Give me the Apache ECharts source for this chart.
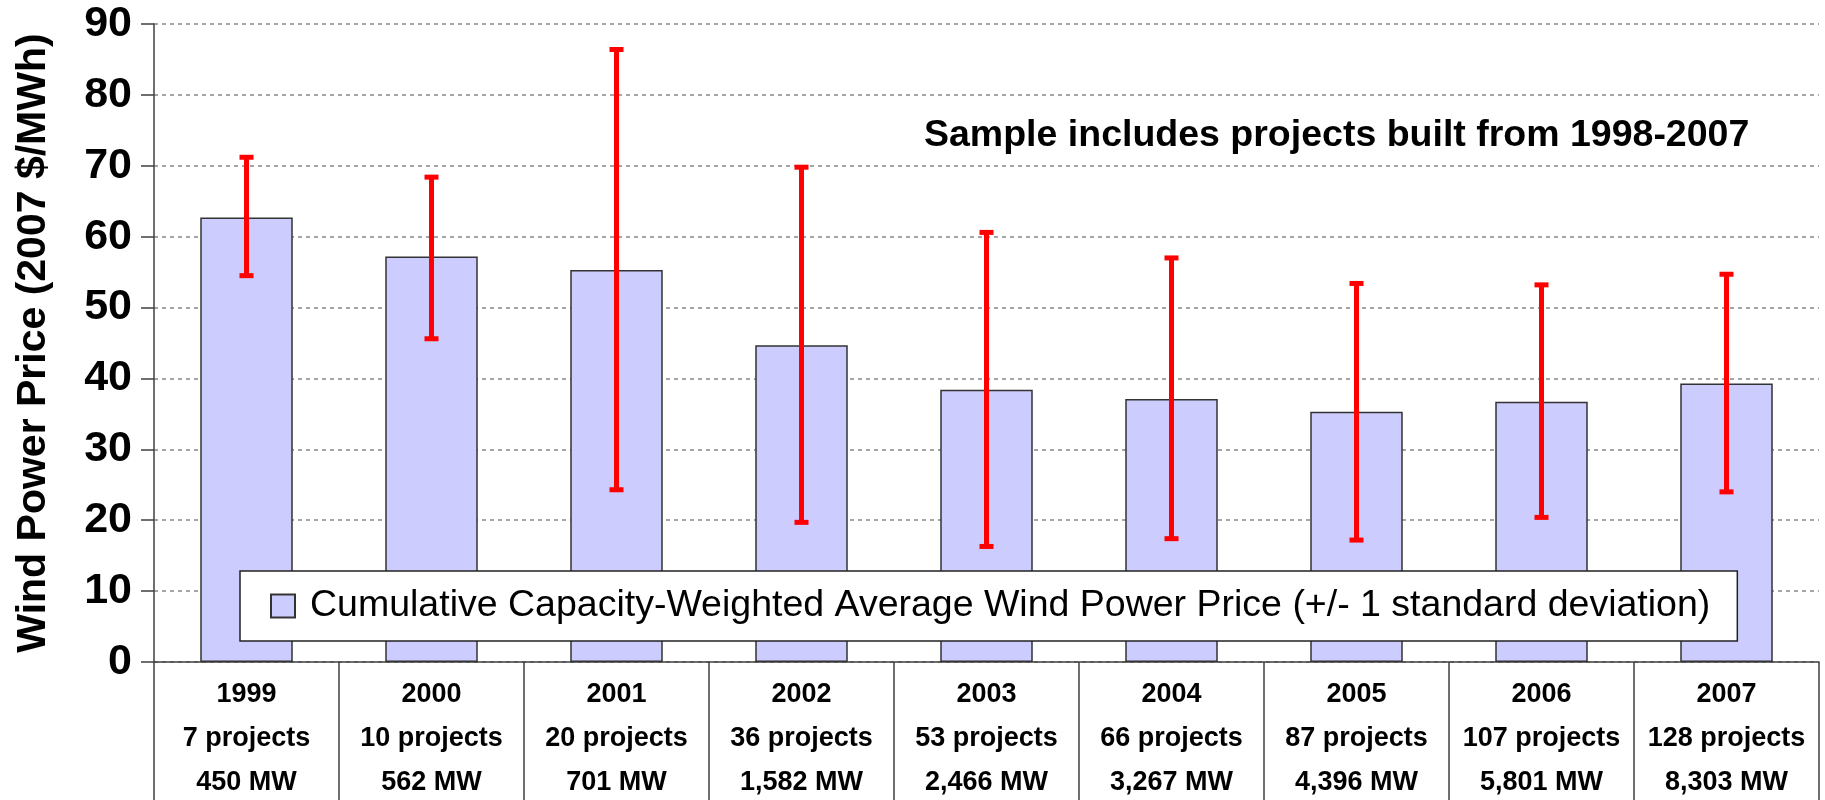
<!DOCTYPE html>
<html>
<head>
<meta charset="utf-8">
<script src="https://cdn.jsdelivr.net/npm/echarts@6/dist/echarts.min.js"></script>
<style>
  html, body { margin: 0; padding: 0; background: #fff; }
  #chart { width: 1825px; height: 800px; }
</style>
</head>
<body>
<div id="chart"></div>
<script>
const years = ['1999', '2000', '2001', '2002', '2003', '2004', '2005', '2006', '2007'];
const projects = ['7 projects', '10 projects', '20 projects', '36 projects', '53 projects',
  '66 projects', '87 projects', '107 projects', '128 projects'];
const capacity = ['450 MW', '562 MW', '701 MW', '1,582 MW', '2,466 MW',
  '3,267 MW', '4,396 MW', '5,801 MW', '8,303 MW'];
const avgPrice = [62.7, 57.2, 55.3, 44.7, 38.4, 37.1, 35.3, 36.7, 39.3];
const errLow = [54.5, 45.6, 24.3, 19.7, 16.3, 17.4, 17.2, 20.4, 24.0];
const errHigh = [71.2, 68.4, 86.4, 69.8, 60.6, 57.0, 53.4, 53.2, 54.7];
const yTicks = [0, 10, 20, 30, 40, 50, 60, 70, 80, 90];

const seriesName = 'Cumulative Capacity-Weighted Average Wind Power Price (+/- 1 standard deviation)';
const noteText = 'Sample includes projects built from 1998-2007';

const errData = years.map((y, i) => [i, errLow[i], errHigh[i]]);

const chartDom = document.getElementById('chart');
const myChart = echarts.init(chartDom);

const options = {
  animation: false,
  textStyle: { fontFamily: 'Liberation Sans, Arial, sans-serif' },
  grid: { left: 154, right: 6, top: 24, bottom: 138 },
  legend: {
    left: 240,
    top: 571,
    padding: [16, 27, 16, 30],
    backgroundColor: '#fff',
    borderColor: '#222',
    borderWidth: 1.5,
    borderRadius: 0,
    icon: 'rect',
    itemWidth: 24,
    itemHeight: 23,
    itemGap: 18,
    data: [seriesName],
    textStyle: { fontSize: 37.5, color: '#000', padding: [0, 0, 0, 10] },
  },
  xAxis: {
    type: 'category',
    data: years,
    axisLine: { show: true, lineStyle: { color: '#404040', width: 1.5 } },
    axisTick: {
      show: true,
      interval: 0,
      length: 140,
      lineStyle: { color: '#404040', width: 1.5 },
    },
    axisLabel: {
      interval: 0,
      margin: 11,
      formatter: (v, i) => `{y|${v}}\n{p|${projects[i]}}\n{m|${capacity[i]}}`,
      rich: {
        y: { fontSize: 27, fontWeight: 'bold', color: '#000', lineHeight: 44 },
        p: { fontSize: 27, fontWeight: 'bold', color: '#000', lineHeight: 44 },
        m: { fontSize: 27, fontWeight: 'bold', color: '#000', lineHeight: 44 },
      },
    },
  },
  yAxis: {
    type: 'value',
    min: yTicks[0],
    max: yTicks[yTicks.length - 1],
    interval: 10,
    name: 'Wind Power Price (2007 $/MWh)',
    nameLocation: 'middle',
    nameGap: 100,
    nameTextStyle: { fontSize: 41, fontWeight: 'bold', color: '#000' },
    axisLine: { show: true, lineStyle: { color: '#404040', width: 1.5 } },
    axisTick: { show: true, length: 13, lineStyle: { color: '#404040', width: 1.5 } },
    axisLabel: { fontSize: 43, fontWeight: 'bold', color: '#000', margin: 22 },
    splitLine: {
      show: true,
      lineStyle: { color: '#888', width: 1.5, type: [4, 4] },
    },
  },
  graphic: [
    {
      type: 'text',
      left: 924,
      top: 117,
      style: {
        text: noteText,
        fontSize: 37.5,
        fontWeight: 'bold',
        fill: '#000',
        fontFamily: 'Liberation Sans, Arial, sans-serif',
      },
    },
  ],
  series: [
    {
      name: seriesName,
      type: 'bar',
      data: avgPrice,
      barWidth: '50%',
      itemStyle: { color: '#ccccff', borderColor: '#333', borderWidth: 1.5 },
      z: 2,
    },
    {
      name: 'err',
      type: 'custom',
      data: errData,
      z: 3,
      renderItem: function (params, api) {
        const x = api.value(0);
        const lo = api.coord([x, api.value(1)]);
        const hi = api.coord([x, api.value(2)]);
        const cap = 7;
        const style = { stroke: '#ff0000', lineWidth: 5 };
        return {
          type: 'group',
          children: [
            { type: 'line', shape: { x1: hi[0], y1: hi[1], x2: lo[0], y2: lo[1] }, style: style },
            { type: 'line', shape: { x1: hi[0] - cap, y1: hi[1], x2: hi[0] + cap, y2: hi[1] }, style: style },
            { type: 'line', shape: { x1: lo[0] - cap, y1: lo[1], x2: lo[0] + cap, y2: lo[1] }, style: style },
          ],
        };
      },
    },
  ],
};
options && myChart.setOption(options);
</script>
</body>
</html>
